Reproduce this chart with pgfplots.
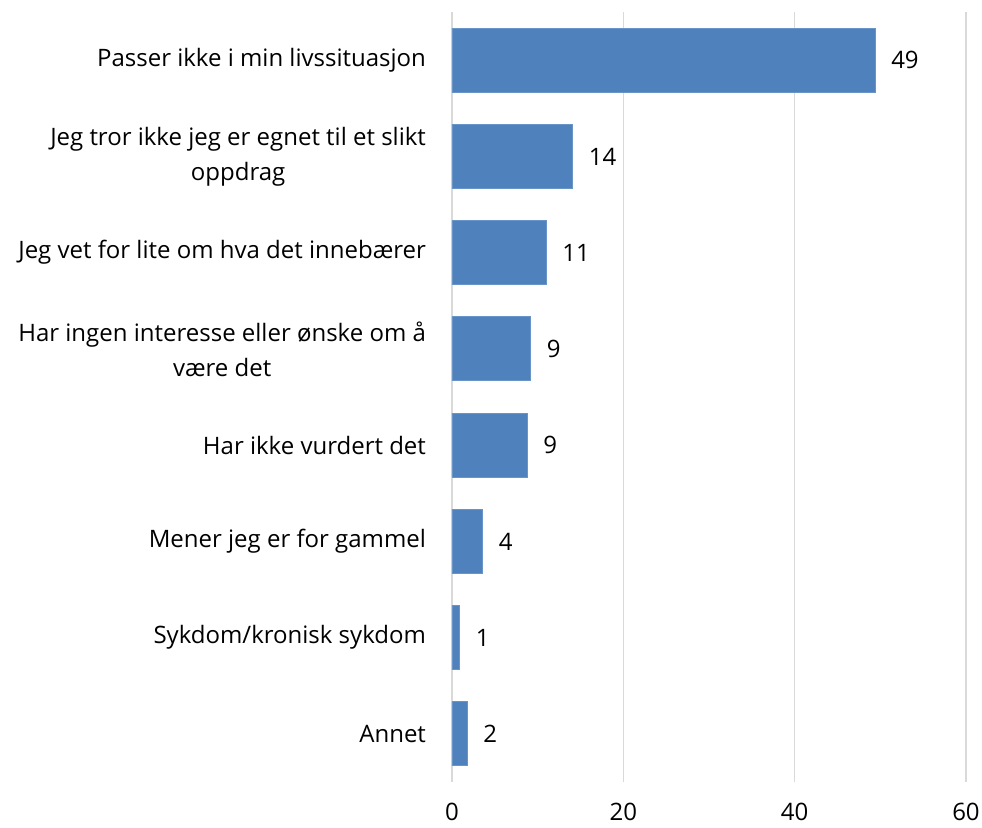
\documentclass[border=0pt]{standalone}
\usepackage{fontspec}
\setmainfont{Open Sans}
\usepackage{pgfplots}
\pgfplotsset{compat=1.18}
\definecolor{barblue}{HTML}{4F81BD}
\definecolor{gridgray}{HTML}{D9D9D9}
\begin{document}
\begin{tikzpicture}
\path[use as bounding box] (0,0) rectangle (491pt,413.5pt);
\begin{axis}[
    at={(226pt,22.5pt)}, anchor=south west,
    scale only axis,
    width=257pt, height=385pt,
    xbar, bar width=32pt,
    xmin=0, xmax=60,
    ymin=-0.5, ymax=7.5,
    y dir=reverse,
    xtick={0,20,40,60},
    ytick={0,...,7},
    yticklabels={
      Passer ikke i min livssituasjon,
      Jeg tror ikke jeg er egnet til et slikt\\oppdrag,
      Jeg vet for lite om hva det innebærer,
      Har ingen interesse eller ønske om å\\være det,
      Har ikke vurdert det,
      Mener jeg er for gammel,
      Sykdom/kronisk sykdom,
      Annet},
    yticklabel style={align=center, font=\fontsize{12}{17.5}\selectfont, xshift=-9.5pt},
    xticklabel style={font=\fontsize{12}{14}\selectfont, yshift=-7pt},
    /pgf/number format/assume math mode=true,
    xmajorgrids, grid style={gridgray, line width=0.8pt},
    axis line style={draw=none},
    major tick length=0pt,
    axis x line*=bottom, axis y line*=left,
    y axis line style={gridgray, line width=0.8pt},
    nodes near coords,
    point meta=explicit symbolic,
    every node near coord/.append style={font=\fontsize{12}{14}\selectfont, anchor=west, xshift=4.5pt, black},
  ]
  \addplot[fill=barblue, draw=barblue!85!white] coordinates {
    (49.4,0) [49]
    (14.1,1) [14]
    (11,2) [11]
    (9.2,3) [9]
    (8.8,4) [9]
    (3.6,5) [4]
    (0.9,6) [1]
    (1.8,7) [2]
  };
\end{axis}
\end{tikzpicture}
\end{document}
